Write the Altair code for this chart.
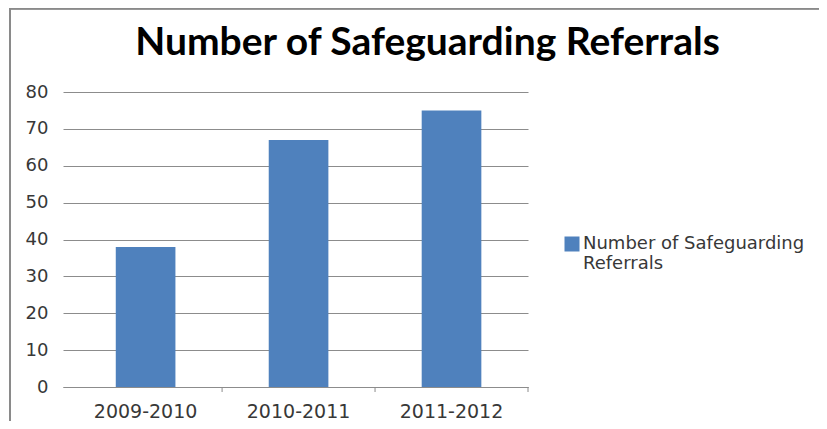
import altair as alt
import pandas as pd

years = ["2009-2010", "2010-2011", "2011-2012"]
referrals = [38, 67, 75]
series_name = "Number of Safeguarding Referrals"
y_ticks = [0, 10, 20, 30, 40, 50, 60, 70, 80]

df = pd.DataFrame({"year": years, "value": referrals, "series": [series_name] * len(years)})

W, H = 465, 295
BAR = "#4F81BD"
GRID = "#8C8C8C"
TXT = "#383838"

x_scale = alt.Scale(domain=years, paddingInner=0, paddingOuter=0.02, align=1)

bars = alt.Chart(df).mark_bar(width={"band": 0.39}, color=BAR).encode(
    x=alt.X("year:N", scale=x_scale, sort=years,
            axis=alt.Axis(title=None, ticks=False, labelAngle=0, labelPadding=15,
                          labelFont="DejaVu Sans", labelFontSize=19, labelColor=TXT,
                          domainColor=GRID, domainWidth=1, grid=False)),
    y=alt.Y("value:Q", scale=alt.Scale(domain=[0, 80], nice=False),
            axis=alt.Axis(title=None, values=y_ticks, ticks=False, domain=False,
                          grid=True, gridColor=GRID, gridWidth=1, gridOpacity=1,
                          labelFont="DejaVu Sans", labelFontSize=18, labelColor=TXT,
                          labelPadding=15)),
    color=alt.Color("series:N", scale=alt.Scale(range=[BAR]),
                    legend=alt.Legend(title=None, orient="none", legendX=500, legendY=143,
                                      symbolType="square", symbolSize=225, symbolStrokeWidth=0,
                                      labelFont="DejaVu Sans", labelFontSize=18, labelColor=TXT,
                                      labelExpr="[slice(datum.label, 0, 22), slice(datum.label, 23)]",
                                      labelBaseline="middle", labelOffset=2, labelLimit=300)),
)

tick_marks = alt.Chart(df).mark_rule(color=GRID, strokeWidth=1).encode(
    x=alt.X("year:N", scale=x_scale, sort=years, bandPosition=1),
    y=alt.value(H), y2=alt.value(H + 5),
)

border_left = alt.Chart(df).mark_rule(color="#8A8A8A", strokeWidth=2).encode(
    x=alt.value(-53), y=alt.value(-84), y2=alt.value(H + 40)
)
border_top = alt.Chart(df).mark_rule(color="#8A8A8A", strokeWidth=2).encode(
    x=alt.value(-54), x2=alt.value(W + 300), y=alt.value(-83.5)
)

chart = alt.layer(bars, tick_marks, border_left, border_top).properties(
    width=W, height=H,
    title=alt.TitleParams(series_name, font="Lato", fontWeight="bold", fontSize=39,
                          color="#000000", anchor="middle", dx=132, offset=-87,
                          baseline="alphabetic"),
    autosize=alt.AutoSizeParams(type="none"),
    padding={"left": 55, "top": 84, "right": 291, "bottom": 34},
).configure_view(stroke=None)

chart.save("out.html", embed_options={"renderer": "svg", "actions": False})
